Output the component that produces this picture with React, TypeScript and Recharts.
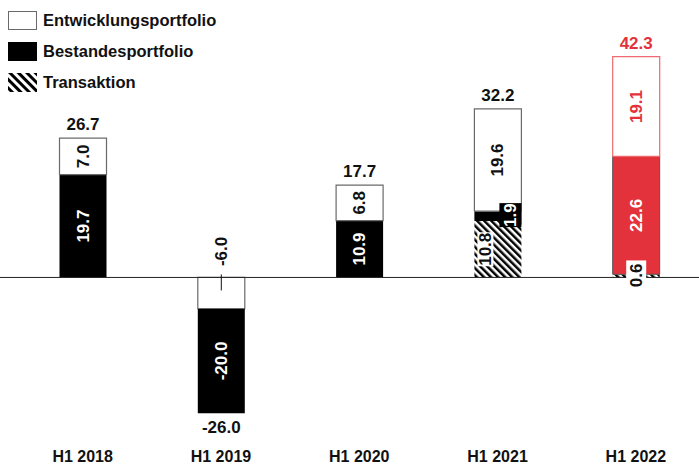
import React from 'react';
import { BarChart, Bar, XAxis, YAxis, Cell, ReferenceLine, LabelList } from 'recharts';

// Halbjahreswerte je Portfolio-Kategorie
const categories = ['H1 2018', 'H1 2019', 'H1 2020', 'H1 2021', 'H1 2022'];
const entwicklung = [7.0, -6.0, 6.8, 19.6, 19.1];
const bestand = [19.7, -20.0, 10.9, 1.9, 22.6];
const transaktion = [0, 0, 0, 10.8, 0.6];
const totals = [26.7, -26.0, 17.7, 32.2, 42.3];
const highlight = [false, false, false, false, true];
const legendItems = ['Entwicklungsportfolio', 'Bestandesportfolio', 'Transaktion'];

const FONT = '"Liberation Sans", Arial, Helvetica, sans-serif';
const RED = '#e3323b';
const RED_LIGHT = '#ee6a70';
const INK = '#111111';
const OUTLINE = '#6a6a6a';

const rows = categories.map((name, i) => ({
  name,
  transaktion: transaktion[i] > 0 ? transaktion[i] : 0,
  entwNeg: entwicklung[i] < 0 ? entwicklung[i] : 0,
  bestand: bestand[i],
  entwPos: entwicklung[i] >= 0 ? entwicklung[i] : 0,
}));

const fmt = (v: number) => v.toFixed(1);
const rowName = (r: any) => r.name;

function geom(p: any) {
  const v = p.viewBox && p.viewBox.width !== undefined ? p.viewBox : p;
  const x = Number(v.x);
  const y = Number(v.y);
  const w = Number(v.width);
  const h = Number(v.height);
  return {
    x,
    w,
    cx: x + w / 2,
    cy: y + h / 2,
    top: Math.min(y, y + h),
    bottom: Math.max(y, y + h),
  };
}

const textProps = {
  fontFamily: FONT,
  fontWeight: 700,
  fontSize: 17,
};

function VText({ x, y, fill, children }: any) {
  return (
    <text
      transform={`translate(${x},${y}) rotate(-90)`}
      textAnchor="middle"
      dominantBaseline="central"
      fill={fill}
      {...textProps}
    >
      {children}
    </text>
  );
}

function EntwPosLabel(props: any) {
  const i = categories.indexOf(props.value);
  if (i < 0 || entwicklung[i] < 0) return null;
  const g = geom(props);
  const color = highlight[i] ? RED : INK;
  return (
    <g>
      <VText x={g.cx} y={g.cy} fill={color}>{fmt(entwicklung[i])}</VText>
      <text x={g.cx} y={g.top - 8} textAnchor="middle" fill={color} {...textProps}>
        {fmt(totals[i])}
      </text>
    </g>
  );
}

function EntwNegLabel(props: any) {
  const i = categories.indexOf(props.value);
  if (i < 0 || !(entwicklung[i] < 0)) return null;
  const g = geom(props);
  return (
    <g>
      <VText x={g.cx} y={g.top - 26} fill={INK}>{fmt(entwicklung[i])}</VText>
      <line x1={g.cx} x2={g.cx} y1={g.top - 3} y2={g.top + 13} stroke={INK} strokeWidth={1} />
    </g>
  );
}

function BestandLabel(props: any) {
  const i = categories.indexOf(props.value);
  if (i < 0) return null;
  const g = geom(props);
  if (bestand[i] > 0 && bestand[i] < 5) {
    const bx = g.x + g.w - 22;
    return (
      <g>
        <rect x={bx} y={g.cy - 13} width={22} height={24} fill="#000" />
        <VText x={bx + 11} y={g.cy - 1} fill="#fff">{fmt(bestand[i])}</VText>
      </g>
    );
  }
  return (
    <g>
      <VText x={g.cx} y={g.cy} fill="#fff">{fmt(bestand[i])}</VText>
      {totals[i] < 0 && (
        <text x={g.cx} y={g.bottom + 20} textAnchor="middle" fill={INK} {...textProps}>
          {fmt(totals[i])}
        </text>
      )}
    </g>
  );
}

function TransaktionLabel(props: any) {
  const i = categories.indexOf(props.value);
  if (i < 0 || !(transaktion[i] > 0)) return null;
  const g = geom(props);
  if (transaktion[i] > 5) {
    const tx = g.x + 11;
    return (
      <g>
        <rect x={tx - 8} y={g.cy - 17} width={16} height={34} fill="#fff" />
        <VText x={tx} y={g.cy} fill={INK}>{fmt(transaktion[i])}</VText>
      </g>
    );
  }
  const zy = g.bottom;
  return (
    <g>
      <rect x={g.cx - 10} y={zy - 17} width={20} height={30} fill="#fff" />
      <VText x={g.cx} y={zy - 2} fill={INK}>{fmt(transaktion[i])}</VText>
    </g>
  );
}

function CategoryTick(props: any) {
  const { x, y, payload } = props;
  return (
    <text x={x} y={y + 26} textAnchor="middle" fill={INK} fontFamily={FONT} fontWeight={700} fontSize={16}>
      {payload.value}
    </text>
  );
}

function Swatch({ kind }: { kind: number }) {
  return (
    <svg width={29} height={19} style={{ display: 'block' }}>
      <defs>
        <pattern id="hatchLegend" patternUnits="userSpaceOnUse" width={6} height={6} patternTransform="rotate(-45)">
          <rect width={6} height={6} fill="#fff" />
          <rect width={3} height={6} fill="#000" />
        </pattern>
      </defs>
      {kind === 0 && <rect x={0.5} y={0.5} width={28} height={18} fill="#fff" stroke={OUTLINE} strokeWidth={1} />}
      {kind === 1 && <rect x={0} y={0} width={29} height={19} fill="#000" />}
      {kind === 2 && <rect x={0} y={0} width={29} height={19} fill="url(#hatchLegend)" />}
    </svg>
  );
}

export default function App() {
  return (
    <div
      style={{
        position: 'absolute',
        left: 0,
        top: 0,
        width: 699,
        height: 464,
        overflow: 'hidden',
        background: '#fff',
      }}
    >
      <BarChart
        width={705}
        height={464}
        data={rows}
        stackOffset="sign"
        barSize={47}
        margin={{ top: 16.5, right: 0, bottom: 0, left: 0 }}
      >
        <defs>
          <pattern id="hatch" patternUnits="userSpaceOnUse" width={5} height={5} patternTransform="rotate(-45)">
            <rect width={5} height={5} fill="#fff" />
            <rect width={2.5} height={5} fill="#000" />
          </pattern>
        </defs>
        <XAxis
          dataKey="name"
          height={30}
          axisLine={false}
          tickLine={false}
          tickSize={0}
          interval={0}
          padding={{ left: 13.5, right: 0 }}
          tick={<CategoryTick />}
        />
        <YAxis hide type="number" domain={[-30, 50]} />
        <Bar dataKey="transaktion" stackId="s" fill="url(#hatch)" isAnimationActive={false}>
          <LabelList dataKey={rowName} content={<TransaktionLabel />} />
        </Bar>
        <Bar dataKey="entwNeg" stackId="s" fill="#fff" stroke={OUTLINE} strokeWidth={1.2} isAnimationActive={false}>
          <LabelList dataKey={rowName} content={<EntwNegLabel />} />
        </Bar>
        <Bar dataKey="bestand" stackId="s" isAnimationActive={false}>
          {rows.map((r, i) => (
            <Cell
              key={r.name}
              fill={highlight[i] ? RED : '#000'}
              stroke={highlight[i] ? '#555' : 'none'}
              strokeWidth={highlight[i] ? 1 : 0}
            />
          ))}
          <LabelList dataKey={rowName} content={<BestandLabel />} />
        </Bar>
        <Bar dataKey="entwPos" stackId="s" fill="#fff" isAnimationActive={false}>
          {rows.map((r, i) => (
            <Cell key={r.name} fill="#fff" stroke={highlight[i] ? RED_LIGHT : OUTLINE} strokeWidth={1.2} />
          ))}
          <LabelList dataKey={rowName} content={<EntwPosLabel />} />
        </Bar>
        <ReferenceLine y={0} stroke="#222" strokeWidth={1} ifOverflow="extendDomain" />
      </BarChart>
      <div style={{ position: 'absolute', left: 8, top: 11 }}>
        {legendItems.map((label, i) => (
          <div
            key={label}
            style={{ display: 'flex', alignItems: 'center', height: 19, marginBottom: 12 }}
          >
            <Swatch kind={i} />
            <span
              style={{
                marginLeft: 6,
                fontFamily: FONT,
                fontWeight: 700,
                fontSize: 16.5,
                color: INK,
                lineHeight: '19px',
              }}
            >
              {label}
            </span>
          </div>
        ))}
      </div>
    </div>
  );
}
